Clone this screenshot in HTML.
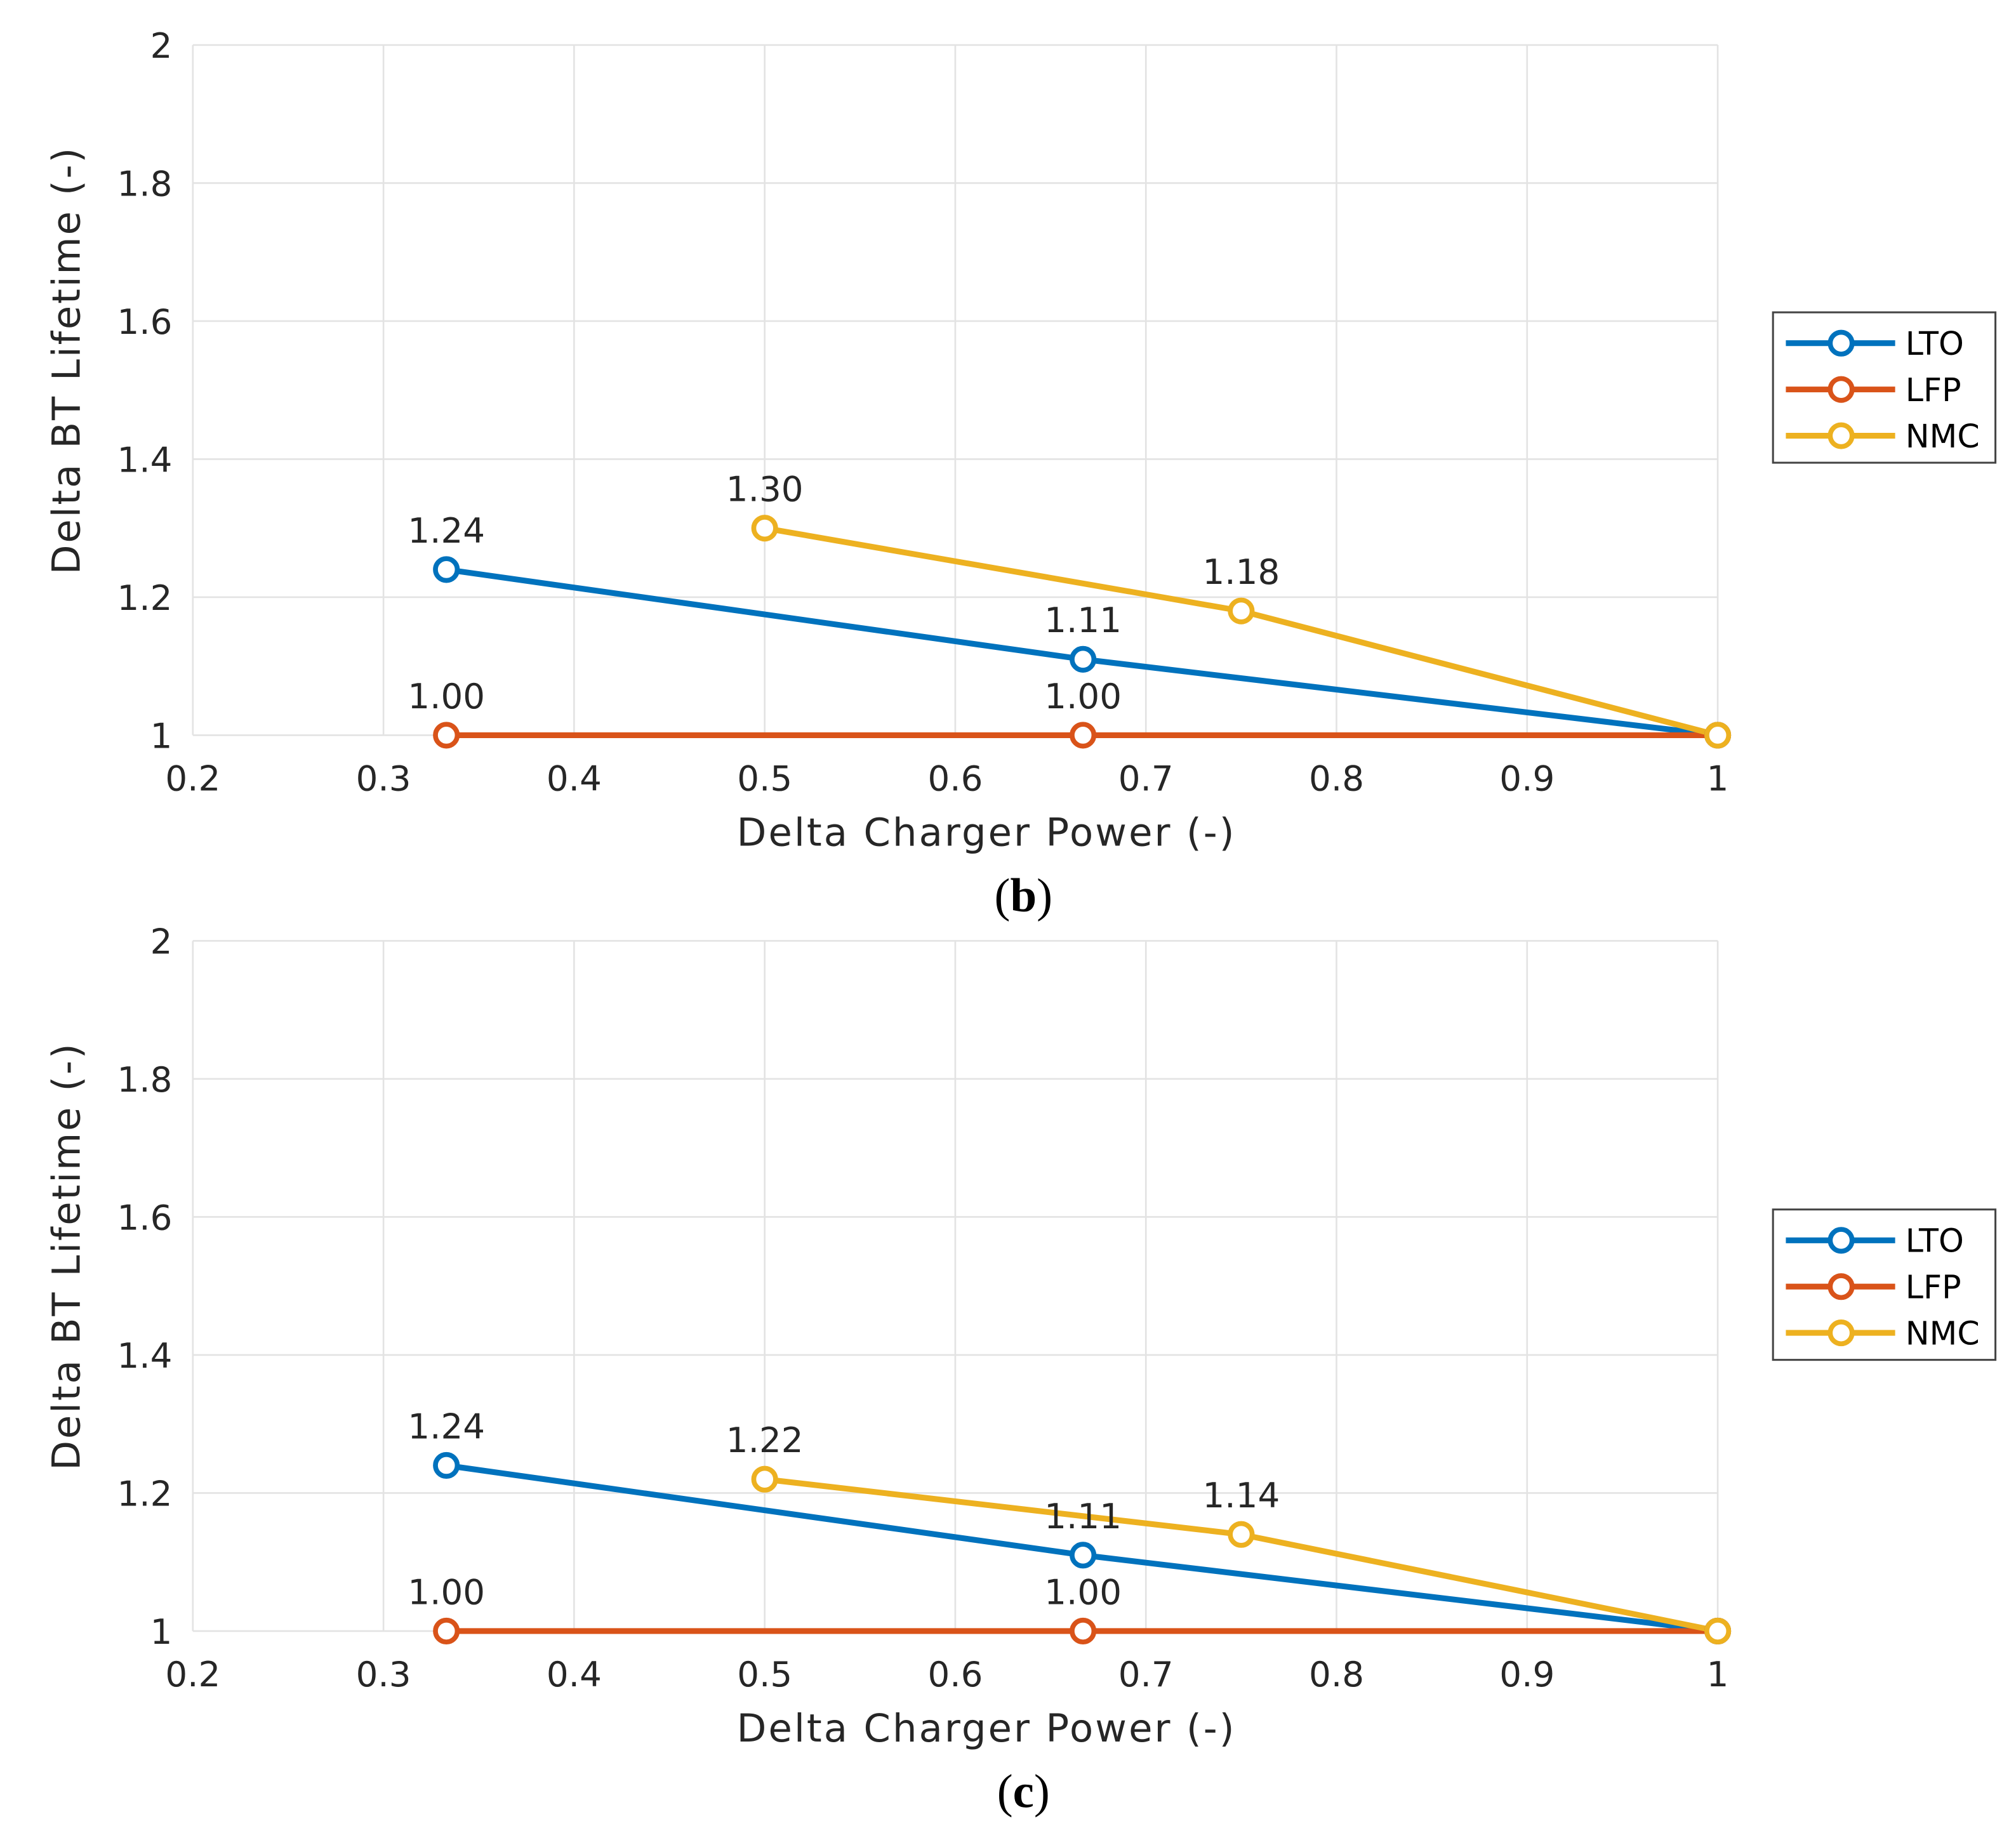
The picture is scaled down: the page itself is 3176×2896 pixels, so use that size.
<!DOCTYPE html>
<html><head><meta charset="utf-8"><style>
html,body{margin:0;padding:0;background:#fff;}
svg{display:block;}
text{font-family:"DejaVu Sans","Liberation Sans",sans-serif;fill:#262626;}
</style></head><body>
<svg id="fig" width="3176" height="2896" viewBox="0 0 1568 1430" preserveAspectRatio="none" xmlns="http://www.w3.org/2000/svg"></svg>
<script>
const xTicks = [0.2,0.3,0.4,0.5,0.6,0.7,0.8,0.9,1];
const xTickLabels = ["0.2","0.3","0.4","0.5","0.6","0.7","0.8","0.9","1"];
const yTicks = [1,1.2,1.4,1.6,1.8,2];
const yTickLabels = ["1","1.2","1.4","1.6","1.8","2"];
const seriesNames = ["LTO","LFP","NMC"];
const ltoX = [0.333,0.667,1];
const ltoY = [1.24,1.11,1.00];
const lfpX = [0.333,0.667,1];
const lfpY = [1.00,1.00,1.00];
const nmcX = [0.5,0.75,1];
const nmcYb = [1.30,1.18,1.00];
const nmcYc = [1.22,1.14,1.00];
const ltoLabels = ["1.24","1.11"];
const lfpLabels = ["1.00","1.00"];
const nmcLabelsB = ["1.30","1.18"];
const nmcLabelsC = ["1.22","1.14"];

const NS="http://www.w3.org/2000/svg";
const svg=document.getElementById('fig');
const colors=["#0072BD","#D95319","#EDB120"];
function mk(tag,attrs,parent){const e=document.createElementNS(NS,tag);for(const k in attrs)e.setAttribute(k,attrs[k]);(parent||svg).appendChild(e);return e;}

function panel(top, name, caption, nmcY, nmcLabels, legendTop){
  const g=mk('g',{});
  
  
  const L=150,R=1336,T=top,B=top+537;
  const sx=v=>L+(v-0.2)/(0.8)*(R-L);
  const sy=v=>B-(v-1)/1*(B-T);
  xTicks.forEach((t,i)=>{
    const l=mk('line',{x1:sx(t),x2:sx(t),y1:T,y2:B,stroke:'#e3e3e3','stroke-width':1.3},g);
    
    
    const tx=mk('text',{x:sx(t),y:B+43,'text-anchor':'middle','font-size':27},g);
    
    
    tx.textContent=xTickLabels[i];
  });
  yTicks.forEach((t,i)=>{
    const l=mk('line',{x1:L,x2:R,y1:sy(t),y2:sy(t),stroke:'#e3e3e3','stroke-width':1.3},g);
    
    
    const tx=mk('text',{x:L-16,y:sy(t)+10,'text-anchor':'end','font-size':27},g);
    
    
    tx.textContent=yTickLabels[i];
  });
  const xl=mk('text',{x:573,y:B+86,'font-size':30,textLength:387,lengthAdjust:'spacing'},g);
  
  
  xl.textContent='Delta Charger Power (-)';
  const yl=mk('text',{x:0,y:0,'text-anchor':'middle','font-size':30,textLength:332,lengthAdjust:'spacing',transform:`translate(62,${T+246}) rotate(-90)`},g);
  
  
  yl.textContent='Delta BT Lifetime (-)';
  const cap=mk('text',{x:796,y:B+137,'text-anchor':'middle','font-size':37,style:'font-family:"Liberation Serif",serif;fill:#000'},g);
  
  
  cap.innerHTML='(<tspan font-weight="bold">'+caption+'</tspan>)';
  const all=[[ltoX,ltoY,ltoLabels],[lfpX,lfpY,lfpLabels],[nmcX,nmcY,nmcLabels]];
  all.forEach(([xs,ys,labs],si)=>{
    const pts=xs.map((x,i)=>sx(x)+','+sy(ys[i])).join(' ');
    const pl=mk('polyline',{points:pts,fill:'none',stroke:colors[si],'stroke-width':4.5},g);
    
    
  });
  all.forEach(([xs,ys,labs],si)=>{
    xs.forEach((x,i)=>{
      const c=mk('circle',{cx:sx(x),cy:sy(ys[i]),r:8.5,fill:'#fff',stroke:colors[si],'stroke-width':3.8},g);
      
      
      if(i<labs.length){
        const t=mk('text',{x:sx(x),y:sy(ys[i])-21,'text-anchor':'middle','font-size':27},g);
        
        
        t.textContent=labs[i];
      }
    });
  });
  const lg=mk('g',{},g);
  
  
  mk('rect',{x:1379,y:legendTop,width:173,height:117,fill:'#fff',stroke:'#444','stroke-width':1.5},lg);
  seriesNames.forEach((n,i)=>{
    const y=legendTop+24+i*36;
    const e=mk('g',{},lg);
    
    
    mk('line',{x1:1389,x2:1474,y1:y,y2:y,stroke:colors[i],'stroke-width':4.5},e);
    mk('circle',{cx:1432,cy:y,r:8.5,fill:'#fff',stroke:colors[i],'stroke-width':3.8},e);
    const t=mk('text',{x:1482,y:y+9,'font-size':25,style:'fill:#000'},e);
    t.textContent=n;
  });
}
panel(35,'chart-panel-b','b',nmcYb,nmcLabelsB,243);
panel(732,'chart-panel-c','c',nmcYc,nmcLabelsC,941);
</script>
</body></html>
